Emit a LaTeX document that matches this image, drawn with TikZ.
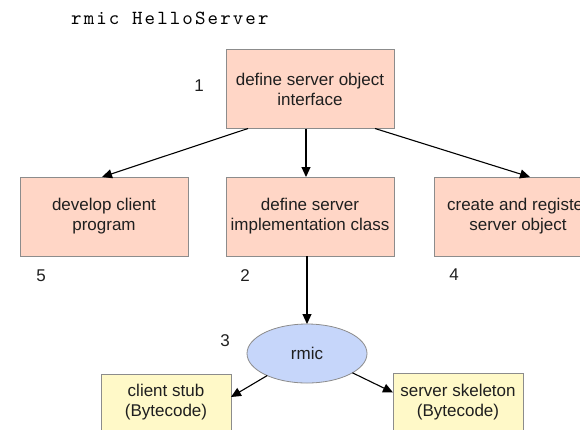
\documentclass[tikz,border=0pt]{standalone}
\usepackage{fontspec}
\setmainfont{Liberation Sans}
\newfontfamily\titlefont[LetterSpace=10.5]{lmmono10-regular.otf}
\usetikzlibrary{shapes.geometric,arrows.meta,calc}
\definecolor{salmonfill}{RGB}{255,214,198}
\definecolor{bluefill}{RGB}{198,214,250}
\definecolor{yellowfill}{RGB}{255,249,200}
\definecolor{bordergray}{RGB}{140,140,140}
\tikzset{
  txt/.style={font=\fontsize{17}{20}\selectfont, align=center, inner sep=0pt, outer sep=0pt, text=black!88},
  stepbox/.style={txt, draw=bordergray, fill=salmonfill, line width=0.8pt, minimum width=168pt, minimum height=79pt},
  codebox/.style={txt, draw=bordergray, fill=yellowfill, line width=0.8pt, minimum width=130pt, minimum height=57pt},
  toolell/.style={txt, ellipse, draw=bordergray, fill=bluefill, line width=0.8pt, minimum width=120pt, minimum height=59pt},
  numlabel/.style={txt},
  conn/.style={line width=1.1pt, -{Triangle[length=10pt,width=9pt]}}
}
\begin{document}
\begin{tikzpicture}[x=1pt,y=-1pt]
\useasboundingbox (0,0) rectangle (580,429);
\clip (0,0) rectangle (580,429);
\node[anchor=base west, inner sep=0pt, font=\titlefont\fontsize{20}{23}\selectfont] (title) at (71,24.3) {rmic HelloServer};

\node[stepbox] (b1) at (310,89) {define server object\\interface};
\node[stepbox] (b5) at (104,216.5) {develop client\\program};
\node[stepbox] (b2) at (310,216.5) {define server\\implementation class};
\node[stepbox] (b4) at (518,216.5) {create and register\\server object};
\node[toolell] (rm) at (307,353.5) {rmic};
\node[codebox] (cs) at (166,402.5) {client stub\\(Bytecode)};
\node[codebox] (sk) at (458,402) {server skeleton\\(Bytecode)};

\node[numlabel] (n1) at (199,86) {1};
\node[numlabel] (n5) at (41,276) {5};
\node[numlabel] (n2) at (245,276) {2};
\node[numlabel] (n4) at (454,275) {4};
\node[numlabel] (n3) at (225,341) {3};

\draw[conn] ($(b1.south west)+(22,0)$) -- ($(b5.north west)+(82,0)$);
\draw[conn] ($(b1.south west)+(80,0)$) -- ($(b2.north west)+(80,0)$);
\draw[conn] ($(b1.south east)+(-19,0)$) -- ($(b4.north west)+(96,0)$);
\draw[conn] ($(b2.south west)+(81,0)$) -- (rm.north);
\draw[conn] (rm.209) -- ($(cs.north east)+(0,23)$);
\draw[conn] (rm.337) -- ($(sk.north west)+(0,19)$);
\end{tikzpicture}
\end{document}
